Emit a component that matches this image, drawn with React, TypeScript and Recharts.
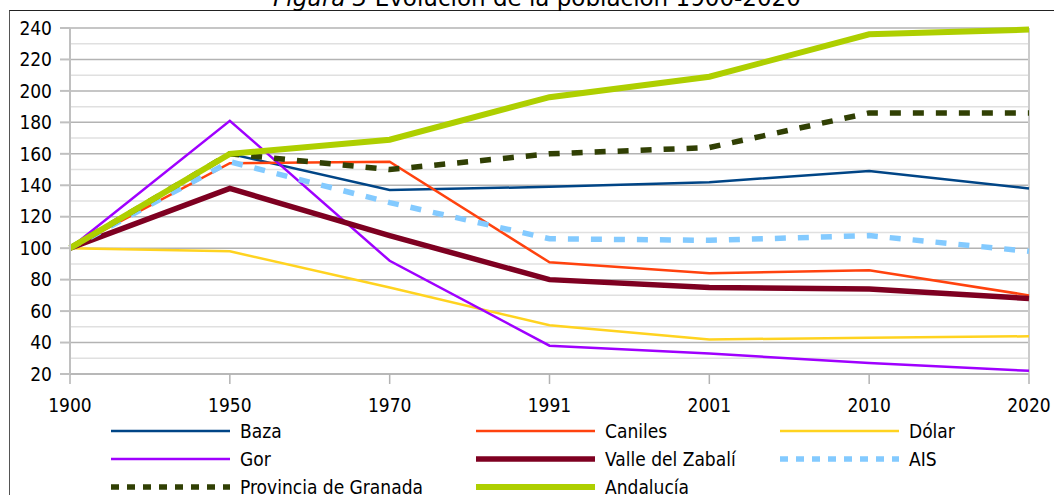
import {
  CartesianGrid,
  Legend,
  Line,
  LineChart,
  ReferenceLine,
  XAxis,
  YAxis,
} from "recharts";

const years = ["1900", "1950", "1970", "1991", "2001", "2010", "2020"];

const baza = [100, 160, 137, 139, 142, 149, 138];
const caniles = [100, 154, 155, 91, 84, 86, 70];
const dolar = [100, 98, 75, 51, 42, 43, 44];
const gor = [100, 181, 92, 38, 33, 27, 22];
const valle = [100, 138, 108, 80, 75, 74, 68];
const ais = [100, 155, 129, 106, 105, 108, 98];
const granada = [100, 160, 150, 160, 164, 186, 186];
const andalucia = [100, 160, 169, 196, 209, 236, 239];

const yTicks = [20, 40, 60, 80, 100, 120, 140, 160, 180, 200, 220, 240];
const minorTicks = [30, 50, 70, 90, 110, 130, 150, 170, 190, 210, 230];

const FONT = "'Liberation Sans Narrow', 'DejaVu Sans Condensed', sans-serif";

type SeriesDef = {
  key: string;
  name: string;
  values: number[];
  color: string;
  width: number;
  dash?: string;
};

const series: SeriesDef[] = [
  { key: "baza", name: "Baza", values: baza, color: "#004586", width: 2.5 },
  { key: "caniles", name: "Caniles", values: caniles, color: "#ff420e", width: 2.5 },
  { key: "dolar", name: "Dólar", values: dolar, color: "#ffd320", width: 2.5 },
  { key: "gor", name: "Gor", values: gor, color: "#9f00ff", width: 2.5 },
  { key: "valle", name: "Valle del Zabalí", values: valle, color: "#7e0021", width: 5.5 },
  { key: "ais", name: "AIS", values: ais, color: "#83caff", width: 5.5, dash: "11 12" },
  { key: "granada", name: "Provincia de Granada", values: granada, color: "#314004", width: 5.5, dash: "11 12" },
  { key: "andalucia", name: "Andalucía", values: andalucia, color: "#aecf00", width: 6 },
];

const data = years.map((year, i) => {
  const row: { [key: string]: any } = { year };
  series.forEach((s) => {
    row[s.key] = s.values[i];
  });
  return row;
});

const legendCols = [111, 476, 780];

function renderLegend() {
  return (
    <svg width={1054} height={81} style={{ display: "block" }}>
      {series.map((s, i) => {
        const x = legendCols[i % 3];
        const y = 17 + Math.floor(i / 3) * 28;
        return (
          <g key={s.key}>
            <line
              x1={x}
              x2={x + 119}
              y1={y}
              y2={y}
              stroke={s.color}
              strokeWidth={s.width}
              strokeDasharray={s.dash ? "8 8" : undefined}
            />
            <text x={x + 129} y={y} dy="0.36em" fontSize={19} fontFamily={FONT} fill="#000">
              {s.name}
            </text>
          </g>
        );
      })}
    </svg>
  );
}

export default function App() {
  return (
    <div
      style={{
        position: "absolute",
        left: 0,
        top: 0,
        width: 1054,
        height: 495,
        overflow: "hidden",
        background: "#fff",
      }}
    >
      <div
        style={{
          position: "absolute",
          left: 9,
          top: 10,
          width: 1100,
          height: 600,
          borderLeft: "1.5px solid #555",
          borderTop: "1.5px solid #222",
        }}
      />
      {/* title sits mostly above the visible area, as in the source */}
      <div
        style={{
          position: "absolute",
          left: 0,
          width: 1074,
          top: -15,
          textAlign: "center",
          fontFamily: "'DejaVu Sans', sans-serif",
          fontSize: 23,
          lineHeight: "26px",
          color: "#000",
          whiteSpace: "nowrap",
        }}
      >
        <i>Figura 3</i> Evolución de la población 1900-2020
      </div>
      <LineChart
        width={1054}
        height={495}
        data={data}
        margin={{ top: 28, right: 25, left: 0, bottom: 0 }}
        style={{ position: "absolute", left: 0, top: 0 }}
      >
        <CartesianGrid vertical={false} stroke="#b3b3b3" strokeWidth={1.5} />
        {minorTicks.map((v) => (
          <ReferenceLine key={v} y={v} stroke="#e0e0e0" strokeWidth={1.5} />
        ))}
        <ReferenceLine x="2020" stroke="#cccccc" strokeWidth={2} />
        <XAxis
          dataKey="year"
          height={40}
          stroke="#b3b3b3"
          strokeWidth={1.5}
          tickSize={10}
          tickMargin={15}
          tick={{ fill: "#000", fontSize: 19, fontFamily: FONT }}
          padding={{ left: 0, right: 0 }}
        />
        <YAxis
          width={70}
          domain={[20, 240]}
          ticks={yTicks}
          interval={0}
          stroke="#c0c0c0"
          strokeWidth={2}
          tickSize={10}
          tickMargin={8}
          tick={{ fill: "#000", fontSize: 19, fontFamily: FONT }}
        />
        <Legend verticalAlign="bottom" height={81} content={renderLegend} wrapperStyle={{ left: 0, width: 1054 }} />
        {series.map((s) => (
          <Line
            key={s.key}
            type="linear"
            dataKey={s.key}
            name={s.name}
            stroke={s.color}
            strokeWidth={s.width}
            strokeDasharray={s.dash}
            dot={false}
            isAnimationActive={false}
          />
        ))}
      </LineChart>
    </div>
  );
}
